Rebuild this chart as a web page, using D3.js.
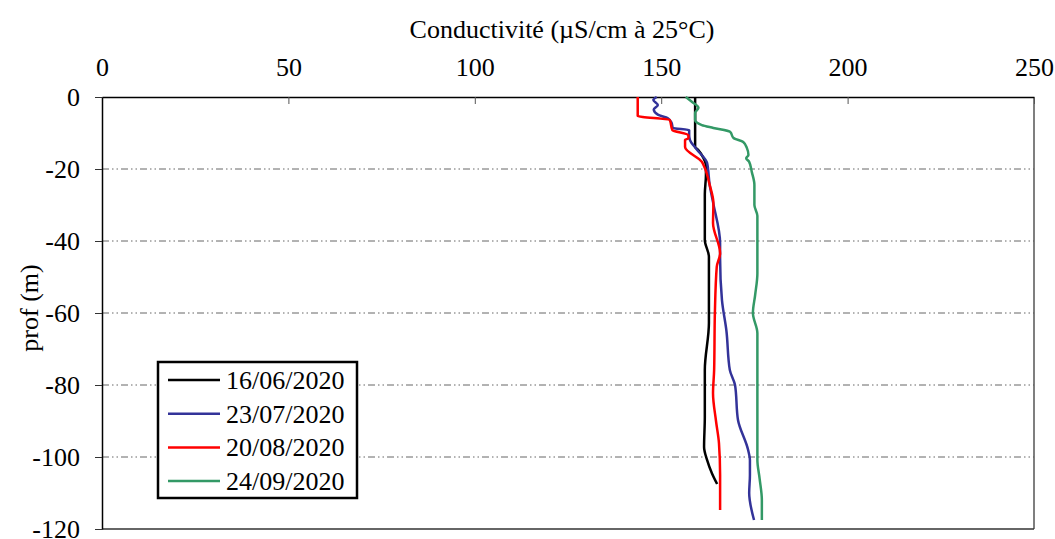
<!DOCTYPE html>
<html>
<head>
<meta charset="utf-8">
<script src="https://cdn.jsdelivr.net/npm/d3@7"></script>
<style>
  body { margin: 0; background: #fff; }
  text { font-family: "Liberation Serif", "Times New Roman", serif; }
</style>
</head>
<body>
<div id="chart"></div>
<script>
// series: depth (m) and conductivity (µS/cm à 25°C)
var dates = ["16/06/2020", "23/07/2020", "20/08/2020", "24/09/2020"];
var colors = ["#000000", "#333399", "#ff0000", "#339966"];

var depth1 = [0, 13.8, 14.7, 16.7, 18.9, 21.7, 27, 39.7, 44.4, 62.8, 75.8, 88.9, 97.2, 100.8, 104.5, 107.5];
var cond1  = [159.1, 159.1, 159.9, 161.2, 162, 162, 161.7, 161.7, 162.8, 162.8, 161.7, 161.7, 161.5, 162.3, 163.6, 165];

var depth2 = [0, 0.8, 2.2, 3.5, 4.9, 5.9, 7.2, 8.6, 9.2, 10.6, 11.9, 14.5, 18.3, 24.4, 29.2, 40.6, 45, 56.4, 65, 75.8, 80, 89.7, 98, 100.8, 105, 110, 117.5];
var cond2  = [148.8, 147.9, 149.1, 148, 149.1, 151.8, 152.8, 153.1, 157.5, 157.5, 157.7, 159.5, 162.3, 163, 163.9, 165.8, 165.8, 166.3, 167.5, 168.4, 169.8, 170.6, 173.3, 173.8, 173.8, 173.6, 174.9];

var depth3 = [0, 5.3, 6.4, 9.2, 10.6, 11.5, 11.9, 13.9, 18, 19.7, 24.4, 29.4, 35, 43.4, 47.2, 60, 75.8, 82.3, 90, 96.2, 105, 114.7];
var cond3  = [143.7, 143.7, 152.3, 153, 157.3, 157.3, 156.4, 156.4, 160.9, 161.7, 163, 164, 163.9, 165.8, 164.9, 164.4, 164.2, 163.9, 164.7, 165.5, 165.8, 165.8];

var depth4 = [0, 1.4, 3, 4.4, 6.4, 7.8, 8.6, 9.7, 11.4, 12.5, 14.2, 16.1, 17, 18, 20.8, 24.4, 30, 33, 49, 55, 60, 65.6, 75.8, 100.8, 106, 112, 117.5];
var cond4  = [156.6, 158.3, 160, 159.1, 159.1, 160.9, 164, 168.5, 169.4, 172, 173, 173.4, 172.8, 173.6, 174.3, 175, 175, 175.8, 175.8, 175.2, 174.6, 175.8, 175.8, 175.8, 176.4, 177, 177];

var depths = [depth1, depth2, depth3, depth4];
var conds  = [cond1, cond2, cond3, cond4];

var xTicks = [0, 50, 100, 150, 200, 250];
var yTicks = [0, -20, -40, -60, -80, -100, -120];

var W = 1055, H = 539;
var margin = {top: 97, right: 21, bottom: 10, left: 102},
    width = 1034 - margin.left,
    height = 529 - margin.top;

var svg = d3.select("#chart")
  .append("svg")
    .attr("width", W)
    .attr("height", H);

var g = svg.append("g")
    .attr("transform", "translate(" + margin.left + "," + margin.top + ")");

var x = d3.scaleLinear().domain([0, 250]).range([0, width]);
var y = d3.scaleLinear().domain([0, -120]).range([0, height]);

// grid lines (dash-dot)
g.selectAll(".grid")
  .data(yTicks.filter(function(d) { return d !== 0 && d !== -120; }))
  .enter().append("line")
    .attr("x1", 0).attr("x2", width)
    .attr("y1", function(d) { return y(d); })
    .attr("y2", function(d) { return y(d); })
    .attr("stroke", "#666")
    .attr("stroke-width", 1)
    .attr("stroke-dasharray", "7,3,1.5,3,1.5,3");

// plot area border right and bottom
g.append("line").attr("x1", width).attr("x2", width).attr("y1", 0).attr("y2", height)
  .attr("stroke", "#555").attr("stroke-width", 1.5);
g.append("line").attr("x1", 0).attr("x2", width).attr("y1", height).attr("y2", height)
  .attr("stroke", "#333").attr("stroke-width", 1.5);

// top axis (ticks inside)
var xAxis = g.append("g")
  .call(d3.axisTop(x).tickValues(xTicks).tickSizeInner(-7).tickSizeOuter(0).tickPadding(21));
xAxis.select(".domain").attr("stroke", "#000").attr("stroke-width", 1.5);
xAxis.selectAll(".tick line").attr("stroke", "#555");
xAxis.selectAll("text").attr("font-size", 26).attr("fill", "#000")
  .attr("font-family", "Liberation Serif");

// left axis, plain hyphen for minus
var yAxis = g.append("g")
  .call(d3.axisLeft(y).tickValues(yTicks).tickSize(7).tickSizeOuter(0).tickPadding(15)
    .tickFormat(function(d) { return String(d); }));
yAxis.select(".domain").attr("stroke", "#000").attr("stroke-width", 1.5);
yAxis.selectAll(".tick line").attr("stroke", "#333");
yAxis.selectAll("text").attr("font-size", 26).attr("fill", "#000")
  .attr("font-family", "Liberation Serif");

// curves
var line = d3.line()
  .x(function(d) { return x(d[1]); })
  .y(function(d) { return y(-d[0]); })
  .curve(d3.curveMonotoneY);

depths.forEach(function(dep, i) {
  var pts = dep.map(function(d, j) { return [d, conds[i][j]]; });
  g.append("path")
    .datum(pts)
    .attr("fill", "none")
    .attr("stroke", colors[i])
    .attr("stroke-width", 2.5)
    .attr("stroke-linejoin", "round")
    .attr("d", line);
});

// titles
svg.append("text")
  .attr("x", 562).attr("y", 38)
  .attr("text-anchor", "middle")
  .attr("font-size", 26)
  .text("Conductivité (µS/cm à 25°C)");

svg.append("text")
  .attr("transform", "translate(38,308) rotate(-90)")
  .attr("text-anchor", "middle")
  .attr("font-size", 26)
  .text("prof (m)");

// legend
var legend = svg.append("g").attr("transform", "translate(158,362)");
legend.append("rect")
  .attr("width", 199).attr("height", 136)
  .attr("fill", "#fff").attr("stroke", "#000").attr("stroke-width", 2.5);

var items = legend.selectAll(".item")
  .data(dates)
  .enter().append("g")
    .attr("transform", function(d, i) { return "translate(0," + (18 + i * 33.7) + ")"; });
items.append("line")
  .attr("x1", 10).attr("x2", 62)
  .attr("stroke", function(d, i) { return colors[i]; })
  .attr("stroke-width", 2.5);
items.append("text")
  .attr("x", 68).attr("y", 9)
  .attr("font-size", 26)
  .text(function(d) { return d; });
</script>
</body>
</html>
